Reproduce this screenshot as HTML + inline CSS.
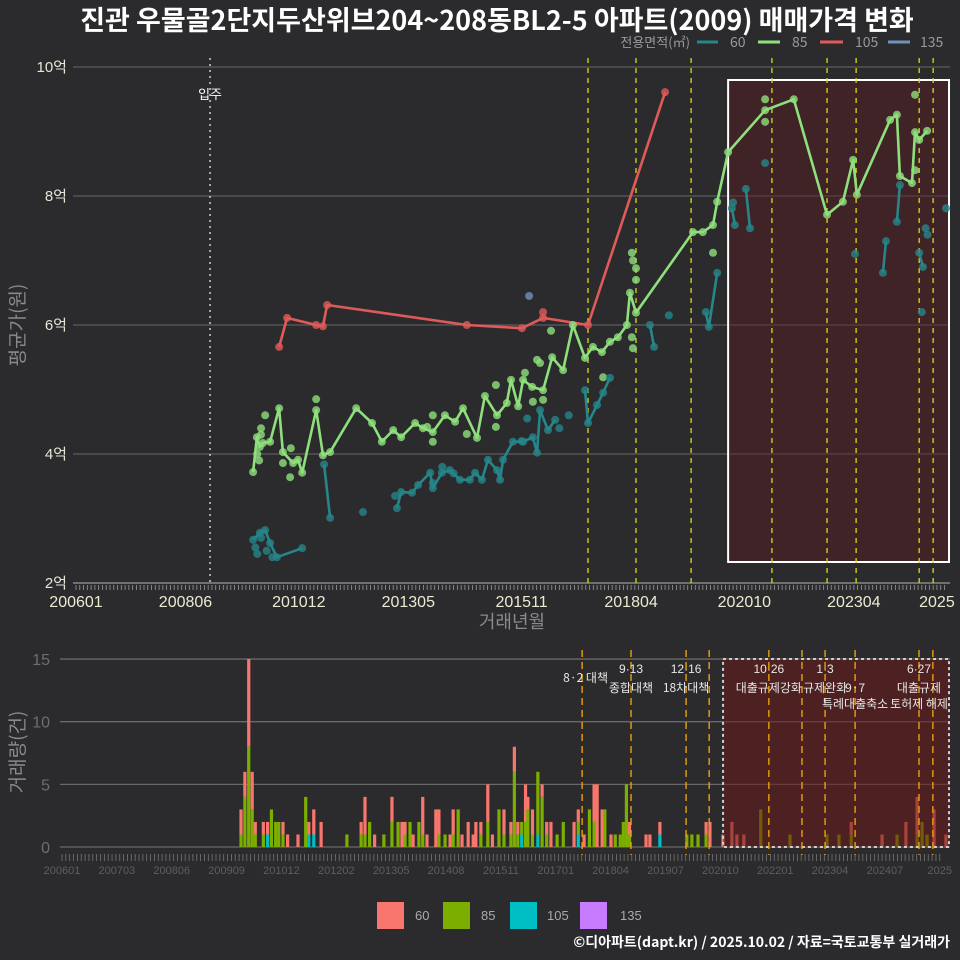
<!DOCTYPE html>
<html><head><meta charset="utf-8">
<style>
html,body{margin:0;padding:0;background:#2b2b2d;}
svg{display:block;font-family:"Liberation Sans","Noto Sans CJK KR",sans-serif;}
</style></head>
<body>
<svg id="chart" width="960" height="960" viewBox="0 0 960 960">
<rect x="0" y="0" width="960" height="960" fill="#2b2b2d"/>
<text x="497" y="30" text-anchor="middle" fill="#ffffff" font-size="27" font-weight="bold" font-family="'Noto Sans CJK KR',sans-serif">진관 우물골2단지두산위브204~208동BL2-5 아파트(2009) 매매가격 변화</text>
<g font-size="14" font-family="'Noto Sans CJK KR',sans-serif">
<text x="690" y="47" text-anchor="end" fill="#9a9a9a" font-size="13">전용면적(㎡)</text>
<line x1="697" y1="42" x2="718" y2="42" stroke="#26868a" stroke-width="3"/>
<text x="730" y="47" fill="#9a9a9a">60</text>
<line x1="758" y1="42" x2="780" y2="42" stroke="#8ee07c" stroke-width="3"/>
<text x="792" y="47" fill="#9a9a9a">85</text>
<line x1="820" y1="42" x2="843" y2="42" stroke="#e05a5a" stroke-width="3"/>
<text x="855" y="47" fill="#9a9a9a">105</text>
<line x1="888" y1="42" x2="910" y2="42" stroke="#7091b8" stroke-width="3"/>
<text x="920" y="47" fill="#9a9a9a">135</text>
</g>
<g id="topPanel"></g>
<g id="botPanel"></g>
<text x="0" y="0" transform="translate(24,325) rotate(-90)" text-anchor="middle" fill="#8a8a8a" font-size="19" font-family="'Noto Sans CJK KR',sans-serif">평균가(원)</text>
<text x="512" y="628" text-anchor="middle" fill="#8a8a8a" font-size="18" font-family="'Noto Sans CJK KR',sans-serif">거래년월</text>
<text x="0" y="0" transform="translate(24,752) rotate(-90)" text-anchor="middle" fill="#8a8a8a" font-size="19" font-family="'Noto Sans CJK KR',sans-serif">거래량(건)</text>
<g font-size="13">
<rect x="377" y="902" width="27" height="27" fill="#F8766D"/>
<text x="415" y="920" fill="#aaaaaa">60</text>
<rect x="443" y="902" width="27" height="27" fill="#7CAE00"/>
<text x="481" y="920" fill="#aaaaaa">85</text>
<rect x="510" y="902" width="27" height="27" fill="#00BFC4"/>
<text x="547" y="920" fill="#aaaaaa">105</text>
<rect x="580" y="902" width="27" height="27" fill="#C77CFF"/>
<text x="620" y="920" fill="#aaaaaa">135</text>
</g>
<text x="950" y="947" text-anchor="end" fill="#ffffff" font-size="14" font-weight="bold" font-family="'Noto Sans CJK KR',sans-serif">©디아파트(dapt.kr) / 2025.10.02 / 자료=국토교통부 실거래가</text>
</svg>
<script>
// months since 2006-01
const s85M=[46.9,47.9,48.7,49.5,51.4,53.8,54.8,57.5,58.8,59.9,63.6,65.4,67.3,74.2,78.4,81.0,84.0,86.1,89.8,91.9,94.5,97.7,100.4,102.5,106.2,108.3,111.5,114.1,115.2,117.1,118.4,120.8,123.7,126.1,129.0,131.6,134.8,136.9,139.3,141.4,143.5,145.9,146.7,148.3,163.4,166.0,168.7,169.8,172.7,182.5,190.1,198.9,203.1,205.8,206.8,215.6,217.4,218.2,221.4,222.2,223.3,225.4];
const s85V=[3.72,4.26,4.11,4.17,4.19,4.71,4.03,3.86,3.91,3.71,4.68,3.98,4.03,4.71,4.48,4.19,4.37,4.26,4.48,4.40,4.34,4.60,4.50,4.71,4.25,4.90,4.60,4.79,5.15,4.74,5.15,5.04,4.99,5.50,5.30,6.00,5.49,5.66,5.58,5.74,5.81,6.00,6.50,6.19,7.44,7.44,7.55,7.91,8.68,9.33,9.50,7.71,7.91,8.56,8.02,9.18,9.26,8.31,8.20,8.99,8.87,9.01];
const x85M=[50.1,49.0,56.7,54.8,56.9,63.6,94.5,93.0,94.5,103.5,111.2,111.2,118.9,122.1,122.9,121.0,123.7,125.8,139.6,147.5,147.2,147.5,148.3,147.2,148.3,168.7,182.5,182.5,222.2,222.2,48.0,48.5,49.0];
const x85V=[4.60,4.40,3.64,3.86,4.09,4.85,4.19,4.42,4.60,4.31,5.07,4.42,5.26,5.46,5.41,4.81,4.84,5.91,5.19,5.64,7.12,7.00,6.88,5.81,6.70,7.12,9.50,9.15,9.57,8.40,4.0,3.9,4.3];
const s60M=[46.9,48.7,50.1,51.4,53.2,59.9,null,65.7,67.3,null,85.0,86.1,89.0,90.6,93.8,94.5,96.9,99.0,101.7,104.3,105.7,107.5,109.1,111.5,112.3,113.1,115.7,118.4,121.0,122.1,122.9,125.0,126.9,null,134.8,135.6,138.0,139.6,141.4,null,152.0,153.1,null,166.8,167.6,169.8,null,173.7,174.5,null,177.4,178.5,null,213.7,214.5,null,217.4,218.2,null,223.3,224.3];
const s60V=[2.67,2.78,2.82,2.62,2.40,2.54,null,3.84,3.01,null,3.16,3.41,3.40,3.52,3.71,3.47,3.71,3.75,3.60,3.60,3.71,3.60,3.91,3.75,3.60,3.91,4.19,4.19,4.26,4.02,4.68,4.37,4.53,null,4.99,4.48,4.76,4.95,5.18,null,6.00,5.66,null,6.20,5.97,6.81,null,7.81,7.55,null,8.11,7.50,null,6.81,7.30,null,7.60,8.17,null,7.12,6.90];
const x60M=[47.5,48.0,49.0,50.5,52.0,76.0,84.5,94.5,97.0,100.0,118.0,119.5,128.0,130.5,157.0,174.0,182.5,206.3,230.4,225.0,225.5,224.0];
const x60V=[2.55,2.45,2.70,2.50,2.40,3.10,3.35,3.55,3.80,3.70,4.20,4.55,4.40,4.60,6.15,7.90,8.51,7.10,7.81,7.50,7.40,6.20];
const s105M=[53.8,55.9,63.6,65.4,66.5,103.5,118.1,123.7,135.6,156.0];
const s105V=[5.66,6.11,6.00,5.98,6.31,6.00,5.95,6.11,6.00,9.61];
const x105M=[123.7];
const x105V=[6.20];
const s135M=[120.0];
const s135V=[6.45];
const priceTicks=[2,4,6,8,10];
const priceTickLabels=["2억","4억","6억","8억","10억"];
const xTickMonths=[0,29,59,88,118,147,177,206,228];
const xTickLabels=["200601","200806","201012","201305","201511","201804","202010","202304","2025"];
const moveInMonth=35.5;
const topEventMonths=[135.6,148.3,162.9,184.3,198.9,206.6,223.3,227.0];
// volume: month, count60, count85, count105, count135
const volM=[46.5,47.5,48.5,49.4,50.2,52.3,53.4,54.4,55.5,56.3,57.4,58.6,61.3,63.3,64.1,65.4,67.3,74.0,77.7,78.7,79.9,81.2,83.6,85.7,87.3,88.3,89.1,90.4,91.2,92.7,93.7,94.8,97.1,97.9,99.5,100.8,101.6,102.9,103.9,105.5,106.8,107.5,108.8,110.6,111.8,113.5,114.8,116.6,117.5,118.4,119.4,120.4,121.0,122.2,123.6,124.7,125.9,127.0,128.6,130.2,133.0,134.1,135.6,137.0,138.2,139.0,140.3,141.0,142.6,143.7,145.0,145.8,146.6,147.4,151.7,152.7,155.3,162.3,163.6,165.2,167.3,168.3,171.7,174.0,175.3,177.1,181.5,189.1,198.7,201.8,205.0,213.0,216.9,219.2,222.1,223.4,224.7,226.5,229.6];
const vol60=[2,2,7,3,1,1,1,0,0,0,1,1,1,0,1,2,2,0,1,3,0,1,0,2,0,2,1,0,1,0,3,1,3,2,0,1,2,0,1,2,1,2,1,3,1,0,2,1,2,1,0,3,1,2,0,1,1,2,0,0,2,1,1,0,3,5,3,0,1,0,0,0,0,1,1,1,1,0,0,0,1,2,1,2,1,1,0,0,0,0,1,1,0,2,3,0,0,3,1];
const vol85=[1,4,8,3,1,1,0,3,2,2,1,0,0,4,0,0,0,1,1,1,2,0,1,2,2,0,1,2,0,2,1,0,0,1,1,0,1,3,0,0,0,0,1,2,0,3,1,1,6,1,1,2,3,1,5,4,1,0,1,2,0,1,0,3,2,0,0,3,0,1,1,2,5,1,0,0,0,1,1,1,1,0,0,0,0,0,3,1,1,1,1,0,1,0,1,2,1,0,0];
const vol105=[0,0,0,0,0,0,1,0,0,0,0,0,0,0,1,1,0,0,0,0,0,0,0,0,0,0,0,0,0,0,0,0,0,0,0,0,0,0,0,0,0,0,0,0,0,0,0,0,0,0,1,0,0,0,1,0,0,0,0,0,0,1,0,0,0,0,0,0,0,0,0,0,0,0,0,0,1,0,0,0,0,0,0,0,0,0,0,0,0,0,0,0,0,0,0,0,0,0,0];
const vol135=[];
const volTicks=[0,5,10,15];
const volXTickMonths=[0,14.25,28.5,42.75,57,71.25,85.5,99.75,114,128.25,142.5,156.75,171,185.25,199.5,213.75,228];
const volXTickLabels=["200601","200703","200806","200909","201012","201202","201305","201408","201511","201701","201804","201907","202010","202201","202304","202407","2025"];
const botEventMonths=[135.1,147.8,162.1,168.1,183.6,192.2,198.2,206.0,222.6,226.2];
const annoMonths=[136.0,147.8,162.1,183.6,198.2,206.0,222.6];
const annoTop=["","9·13","12·16","10·26","1·3","","6·27"];
const annoMid=["8·2 대책","종합대책","18차대책","대출규제강화","규제완화","9·7","대출규제"];

const NS="http://www.w3.org/2000/svg";
function mk(tag,attrs,parent){const e=document.createElementNS(NS,tag);for(const k in attrs)e.setAttribute(k,attrs[k]);parent.appendChild(e);return e;}
const tx=m=>76+3.776*m;
const ty=v=>583-(v-2)*64.5;
const bx=m=>62+3.85*m;
const by=c=>847-c*12.53;

const topG=document.getElementById('topPanel');
const botG=document.getElementById('botPanel');

priceTicks.forEach((v,i)=>{
  const l=mk('line',{x1:73,x2:950,y1:ty(v),y2:ty(v),stroke:i===0?'#9a9a9a':'#5c5c5c','stroke-width':1.3},topG);
  
  
  const t=mk('text',{x:67,y:ty(v)+5,'text-anchor':'end',fill:'#e6e6d8','font-size':15},topG);
  t.textContent=priceTickLabels[i];
  
  
});
for(let m=0;m<=230;m++){
  const l=mk('line',{x1:tx(m),x2:tx(m),y1:585,y2:590,stroke:'#9a9a9a','stroke-width':0.8},topG);
  
  
}
xTickMonths.forEach((m,i)=>{
  const t=mk('text',{x:tx(m),y:607,'text-anchor':'middle',fill:'#ecebd2','font-size':16},topG);
  t.textContent=xTickLabels[i];
  
  
});
const hb=mk('rect',{x:tx(172.7),y:80,width:949-tx(172.7),height:482,fill:'#5a1a22','fill-opacity':0.45,stroke:'#ffffff','stroke-width':2},topG);


const mv=mk('line',{x1:tx(moveInMonth),x2:tx(moveInMonth),y1:58,y2:583,stroke:'#cfcfcf','stroke-width':1.5,'stroke-dasharray':'2,4'},topG);


const mvt=mk('text',{x:tx(moveInMonth),y:99,'text-anchor':'middle',fill:'#ffffff','font-size':13,'font-family':"'Noto Sans CJK KR',sans-serif"},topG);
mvt.textContent='입주';


topEventMonths.forEach(m=>{
  const l=mk('line',{x1:tx(m),x2:tx(m),y1:58,y2:583,stroke:'#d8d820','stroke-width':1.3,'stroke-dasharray':'5,5'},topG);
  
  
});
function drawSeries(M,V,color,name){
  let d='',pen=false;
  for(let i=0;i<M.length;i++){
    if(M[i]===null){pen=false;continue;}
    d+=(pen?'L':'M')+tx(M[i]).toFixed(1)+','+ty(V[i]).toFixed(1)+' ';pen=true;
  }
  const p=mk('path',{d:d,fill:'none',stroke:color,'stroke-width':2.6,'stroke-linejoin':'round'},topG);
  
  
  for(let i=0;i<M.length;i++){
    if(M[i]===null)continue;
    const c=mk('circle',{cx:tx(M[i]),cy:ty(V[i]),r:4,fill:color,'fill-opacity':0.8},topG);
    
    
  }
}
function drawPts(M,V,color,name){
  for(let i=0;i<M.length;i++){
    const c=mk('circle',{cx:tx(M[i]),cy:ty(V[i]),r:4,fill:color,'fill-opacity':0.8},topG);
    
    
  }
}
drawPts(x60M,x60V,'#26868a','area-60');
drawPts(x85M,x85V,'#8ee07c','area-85');
drawPts(x105M,x105V,'#e05a5a','area-105');
drawSeries(s60M,s60V,'#26868a','area-60');
drawSeries(s105M,s105V,'#e05a5a','area-105');
drawSeries(s85M,s85V,'#8ee07c','area-85');
drawPts(s135M,s135V,'#7091b8','area-135');

volTicks.forEach(v=>{
  const l=mk('line',{x1:60,x2:950,y1:by(v),y2:by(v),stroke:'#6a6a6a','stroke-width':1.3},botG);
  
  
  const t=mk('text',{x:50,y:by(v)+6,'text-anchor':'end',fill:'#6e6e6e','font-size':16},botG);
  t.textContent=String(v);
  
  
});
for(let m=0;m<=228;m++){
  const l=mk('line',{x1:bx(m),x2:bx(m),y1:854,y2:861,stroke:'#777','stroke-width':0.8},botG);
  
  
}
volXTickMonths.forEach((m,i)=>{
  const t=mk('text',{x:bx(m),y:874,'text-anchor':'middle',fill:'#5e5e5e','font-size':11},botG);
  t.textContent=volXTickLabels[i];
  
  
});
const cols=['#F8766D','#7CAE00','#00BFC4','#C77CFF'];
volM.forEach((m,i)=>{
  const parts=[vol135[i]||0,vol105[i]||0,vol85[i]||0,vol60[i]||0];
  const pc=[cols[3],cols[2],cols[1],cols[0]];
  const nm=['vol-135','vol-105','vol-85','vol-60'];
  let base=0;
  parts.forEach((c,j)=>{
    if(!c)return;
    const r=mk('rect',{x:bx(m)-1.6,y:by(base+c),width:3.2,height:by(base)-by(base+c),fill:pc[j]},botG);
    
    
    base+=c;
  });
});
const bb=mk('rect',{x:bx(171.7),y:by(15),width:949-bx(171.7),height:by(0)-by(15),fill:'#6a1818','fill-opacity':0.55,stroke:'#cfcfcf','stroke-width':2,'stroke-dasharray':'3,3'},botG);


botEventMonths.forEach(m=>{
  const l=mk('line',{x1:bx(m),x2:bx(m),y1:650,y2:855,stroke:'#e8a010','stroke-width':1.4,'stroke-dasharray':'7,5'},botG);
  
  
});
annoMonths.forEach((m,i)=>{
  if(annoTop[i]){
    const t=mk('text',{x:bx(m),y:673,'text-anchor':'middle',fill:'#e8e8e8','font-size':12},botG);
    t.textContent=annoTop[i];
    
    
  }
  const t2=mk('text',{x:bx(m),y:i===0?682:692,'text-anchor':'middle',fill:'#e8e8e8','font-size':12,'font-family':"'Noto Sans CJK KR',sans-serif"},botG);
  t2.textContent=annoMid[i];
  
  
});
const a1=mk('text',{x:bx(206.0),y:708,'text-anchor':'middle',fill:'#e8e8e8','font-size':12,'font-family':"'Noto Sans CJK KR',sans-serif"},botG);
a1.textContent='특례대출축소';


const a2=mk('text',{x:bx(222.6),y:708,'text-anchor':'middle',fill:'#e8e8e8','font-size':12,'font-family':"'Noto Sans CJK KR',sans-serif"},botG);
a2.textContent='토허제 해제';


</script>
</body></html>
